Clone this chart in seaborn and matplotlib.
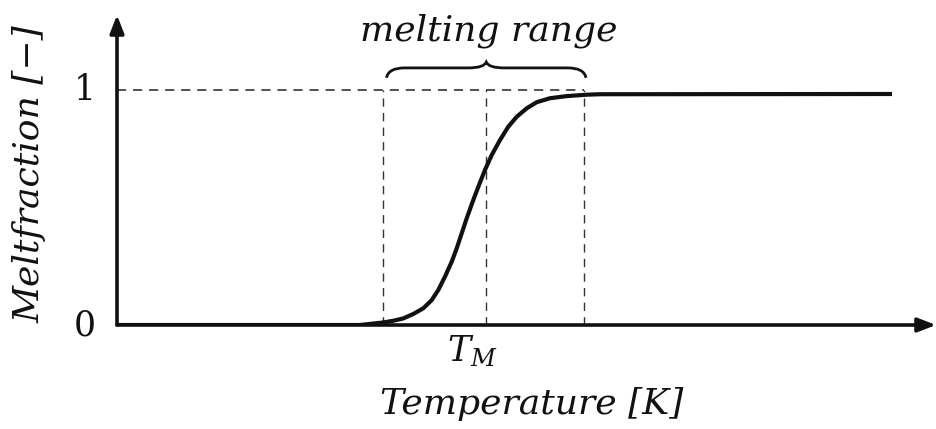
import numpy as np
import pandas as pd
import matplotlib
matplotlib.use("Agg")
import matplotlib.pyplot as plt
from matplotlib.path import Path
from matplotlib.patches import PathPatch
import seaborn as sns

# ---- data (temperature in arbitrary units, melt fraction 0..1) ----
temperature = [0.00, 2.43, 2.647, 2.763, 2.863, 2.963, 3.063, 3.147, 3.213, 3.28, 3.347,
               3.397, 3.447, 3.497, 3.563, 3.613, 3.68, 3.747, 3.83, 3.913, 3.997,
               4.097, 4.197, 4.33, 4.497, 4.697, 4.83, 7.75]
melt_fraction = [0.000, 0.000, 0.010, 0.018, 0.028, 0.047, 0.071, 0.106, 0.149, 0.206, 0.269,
                 0.326, 0.390, 0.454, 0.532, 0.588, 0.660, 0.723, 0.787, 0.844, 0.886,
                 0.922, 0.948, 0.965, 0.974, 0.980, 0.982, 0.983]
range_start = 2.655
t_melt = 3.69
range_end = 4.67
y_ticks = [0, 1]
y_tick_labels = ["0", "1"]
x_label = "Temperature [K]"
y_label = "Meltfraction [\u2212]"
range_label = "melting range"
tm_label = r"$T_M$"

sns.set_theme(style="white")
plt.rcParams["font.family"] = ["DejaVu Serif"]
plt.rcParams["mathtext.fontset"] = "dejavuserif"

W, H = 936, 429
fig = plt.figure(figsize=(W / 100, H / 100), dpi=100)
ax = fig.add_axes([117 / W, 104 / H, 819 / W, 310 / H])
ax.set_xlim(0, 8.19)
ax.set_ylim(0, 310 / 235)

df = pd.DataFrame({"T": temperature, "f": melt_fraction})
sns.lineplot(data=df, x="T", y="f", ax=ax, color="#111111", lw=3.0,
             solid_capstyle="butt", solid_joinstyle="round", zorder=3)

for s in ax.spines.values():
    s.set_visible(False)
ax.set_xticks([])
ax.set_yticks([])
ax.set_xlabel("")
ax.set_ylabel("")

# axes with arrows
ax.annotate("", xy=(1.0, 0), xytext=(0, 0), xycoords="axes fraction",
            arrowprops=dict(arrowstyle="-|>,head_length=0.9,head_width=0.35",
                            color="#111111", lw=2.6, shrinkA=0, shrinkB=0),
            annotation_clip=False, zorder=4)
ax.annotate("", xy=(0, 1.0), xytext=(0, 0), xycoords="axes fraction",
            arrowprops=dict(arrowstyle="-|>,head_length=0.9,head_width=0.35",
                            color="#111111", lw=2.6, shrinkA=0, shrinkB=0),
            annotation_clip=False, zorder=4)

# dashed guides
ax.plot([0, range_end], [1, 1], color="#222222", lw=1.1, ls=(0, (6, 4.5)), zorder=2)
for xv in (range_start, t_melt, range_end):
    ax.plot([xv, xv], [0, 1], color="#333333", lw=1.0, ls=(0, (6, 4.5)), zorder=2)

# curly brace
def brace(x0, x1, ylow, yhigh, ytip):
    xm = (x0 + x1) / 2
    d = 0.18
    verts = [
        (x0, ylow), (x0 + 0.02, yhigh), (x0 + d, yhigh),
        (xm - d, yhigh), (xm - 0.02, yhigh), (xm, ytip),
        (xm + 0.02, yhigh), (xm + d, yhigh),
        (x1 - d, yhigh), (x1 - 0.02, yhigh), (x1, ylow),
    ]
    codes = [Path.MOVETO, Path.CURVE3, Path.CURVE3,
             Path.LINETO, Path.CURVE3, Path.CURVE3,
             Path.CURVE3, Path.CURVE3,
             Path.LINETO, Path.CURVE3, Path.CURVE3]
    return Path(verts, codes)

ax.add_patch(PathPatch(brace(range_start + 0.04, range_end + 0.02, 1.052, 1.094, 1.119),
                       fill=False, lw=2.0, color="#111111", clip_on=False))

ax.text((range_start + range_end) / 2 + 0.05, 1.25, range_label, ha="center", va="center",
        fontsize=26, fontstyle="italic", color="#111111")

# tick labels
for yv, lab in zip(y_ticks, y_tick_labels):
    ax.text(-0.32, yv, lab, ha="center", va="center", fontsize=25, color="#111111")

ax.text(t_melt - 0.14, -0.035, tm_label, ha="center", va="top", fontsize=25, color="#111111")

fig.text(532 / W, 1 - 404 / H, x_label, ha="center", va="center",
         fontsize=26, fontstyle="italic", color="#111111")
fig.text(30 / W, 1 - 174 / H, y_label, ha="center", va="center", rotation=90,
         fontsize=26, fontstyle="italic", color="#111111")

fig.savefig("out.png", dpi=100)
